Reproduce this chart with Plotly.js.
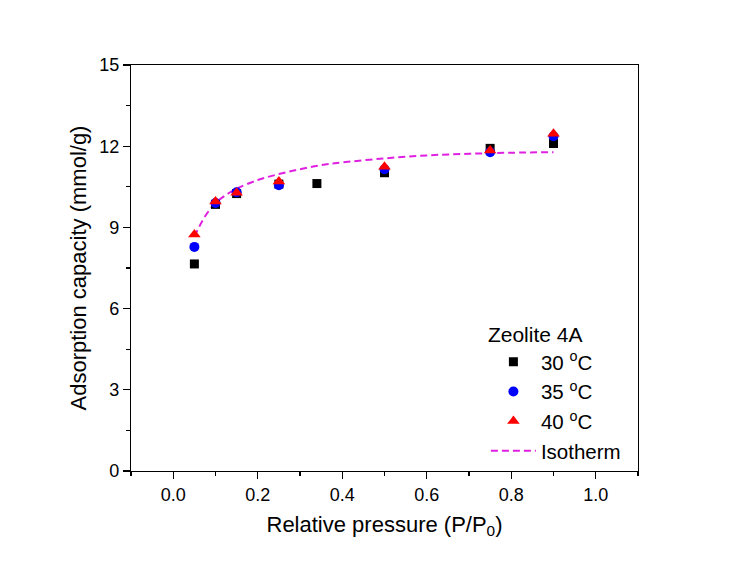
<!DOCTYPE html>
<html>
<head>
<meta charset="utf-8">
<script src="https://cdn.plot.ly/plotly-3.0.1.min.js"></script>
<style>html,body{margin:0;padding:0;background:#fff;}#chart{width:742px;height:567px;}</style>
</head>
<body>
<div id="chart"></div>
<script>
// Relative pressure values
const pressure30 = [0.05, 0.10, 0.15, 0.25, 0.34, 0.50, 0.75, 0.90];
const capacity30 = [7.65, 9.85, 10.25, 10.6, 10.62, 11.02, 11.92, 12.1];
const pressure35 = [0.05, 0.10, 0.15, 0.25, 0.50, 0.75, 0.90];
const capacity35 = [8.28, 9.9, 10.3, 10.56, 11.15, 11.78, 12.37];
const pressure40 = [0.05, 0.10, 0.15, 0.25, 0.50, 0.75, 0.90];
const capacity40 = [8.74, 9.96, 10.28, 10.7, 11.24, 11.84, 12.46];
const isoPressure = [0.05, 0.075, 0.10, 0.125, 0.15, 0.20, 0.25, 0.30, 0.35, 0.40, 0.50, 0.60, 0.70, 0.80, 0.90];
const isoCapacity = [8.66, 9.4, 9.9, 10.2, 10.43, 10.75, 10.97, 11.15, 11.3, 11.4, 11.55, 11.66, 11.72, 11.76, 11.78];
const seriesNames = ['30 <sup>o</sup>C', '35 <sup>o</sup>C', '40 <sup>o</sup>C', 'Isotherm'];
const legendTitle = 'Zeolite 4A';
const xTitle = 'Relative pressure (P/P<sub>0</sub>)';
const yTitle = 'Adsorption capacity (mmol/g)';

const font = 'Arial, "Liberation Sans", sans-serif';

const traces = [
  {x: isoPressure, y: isoCapacity, name: seriesNames[3], mode: 'lines',
   line: {color: '#e020e0', dash: '7px,4px', width: 2, shape: 'spline'}, legendrank: 4},
  {x: pressure30, y: capacity30, name: seriesNames[0], mode: 'markers',
   marker: {symbol: 'square', color: '#000000', size: 9}, legendrank: 1},
  {x: pressure35, y: capacity35, name: seriesNames[1], mode: 'markers',
   marker: {symbol: 'circle', color: '#0000ff', size: 10}, legendrank: 2},
  {x: pressure40, y: capacity40, name: seriesNames[2], mode: 'markers',
   marker: {symbol: 'triangle-up', color: '#ff0000', size: 11}, legendrank: 3}
];

const layout = {
  width: 742, height: 567,
  margin: {l: 131, r: 104, t: 65, b: 96},
  paper_bgcolor: '#fff', plot_bgcolor: '#fff',
  font: {family: font, color: '#000', size: 18},
  showlegend: true,
  legend: {
    x: 0.70, y: 0.385, xanchor: 'left', yanchor: 'top',
    bgcolor: 'rgba(0,0,0,0)', borderwidth: 0,
    font: {family: font, size: 20.5, color: '#000'},
    title: {text: legendTitle, font: {family: font, size: 21, color: '#000'}},
    traceorder: 'normal', tracegroupgap: 0, itemwidth: 45
  },
  xaxis: {
    range: [-0.1, 1.1], tickvals: [0, 0.2, 0.4, 0.6, 0.8, 1.0],
    tickformat: '.1f', ticks: 'outside', ticklen: 7, tickwidth: 1.2, tickcolor: '#000',
    minor: {tickvals: [-0.1, 0.1, 0.3, 0.5, 0.7, 0.9, 1.1], ticks: 'outside', ticklen: 4, tickcolor: '#000', tickwidth: 1.2},
    showline: true, linecolor: '#000', linewidth: 1.2, mirror: true,
    showgrid: false, zeroline: false,
    tickfont: {family: font, size: 18},
    title: {text: xTitle, font: {family: font, size: 22}, standoff: 12}
  },
  yaxis: {
    range: [0, 15], tickvals: [0, 3, 6, 9, 12, 15],
    ticks: 'outside', ticklen: 7, tickwidth: 1.2, tickcolor: '#000',
    minor: {tickvals: [1.5, 4.5, 7.5, 10.5, 13.5], ticks: 'outside', ticklen: 4, tickcolor: '#000', tickwidth: 1.2},
    showline: true, linecolor: '#000', linewidth: 1.2, mirror: true,
    showgrid: false, zeroline: false,
    tickfont: {family: font, size: 18},
    title: {text: yTitle, font: {family: font, size: 22}, standoff: 6}
  }
};

Plotly.newPlot('chart', traces, layout, {displayModeBar: false, staticPlot: true});
</script>
</body>
</html>
